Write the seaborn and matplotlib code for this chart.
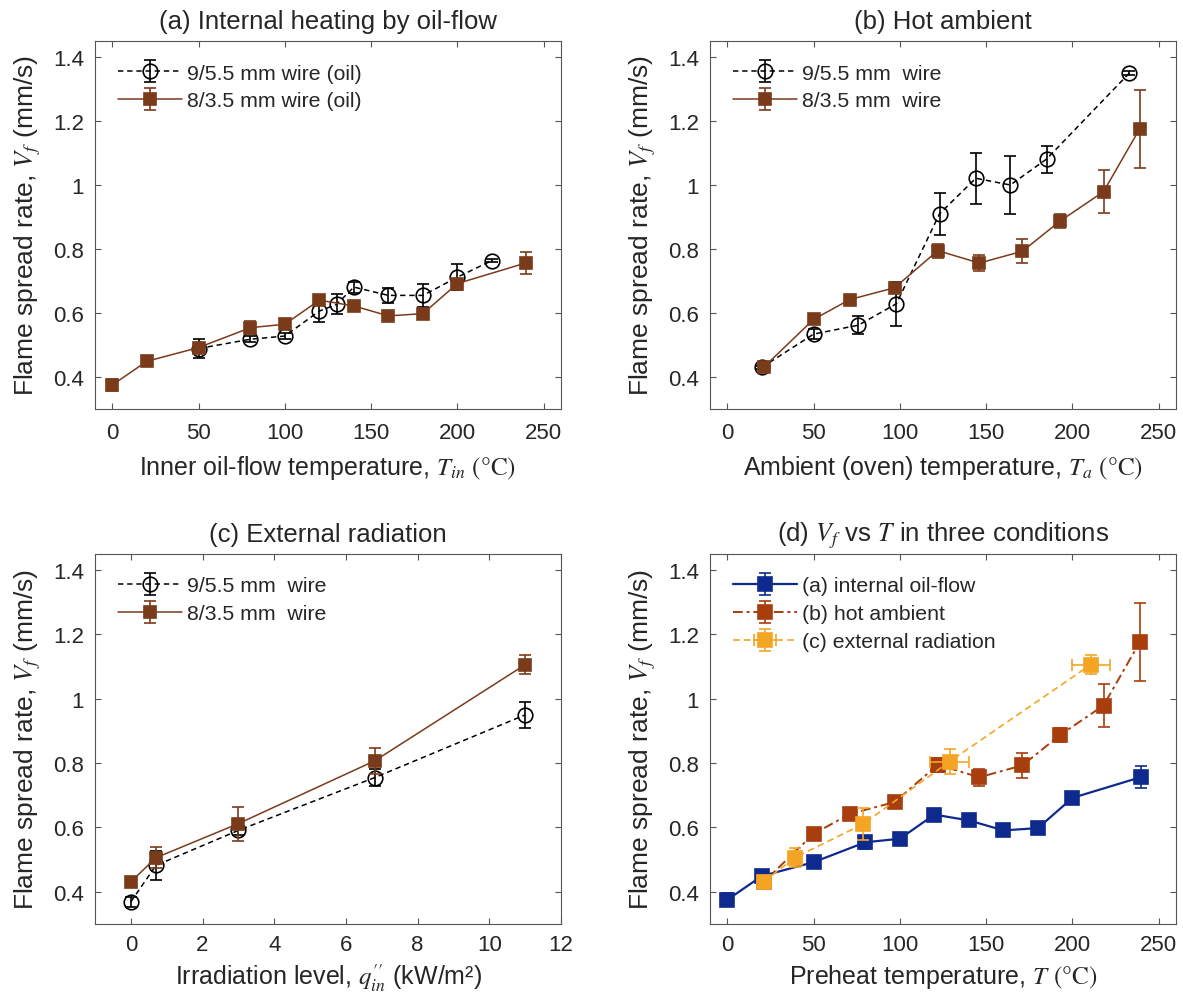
import numpy as np
import pandas as pd
import seaborn as sns
import matplotlib
matplotlib.use("Agg")
import matplotlib.pyplot as plt
from matplotlib.legend_handler import HandlerTuple

# ---------------- data ----------------
# (a) internal heating by oil flow
a_big_x = [50, 80, 100, 120, 130, 140, 160, 180, 200, 220]
a_big_y = [0.489, 0.518, 0.528, 0.606, 0.627, 0.681, 0.655, 0.655, 0.712, 0.764]
a_big_e = [0.029, 0.010, 0.010, 0.034, 0.031, 0.017, 0.023, 0.036, 0.040, 0.005]
a_sm_x = [0, 20, 50, 80, 100, 120, 140, 160, 180, 200, 240]
a_sm_y = [0.375, 0.449, 0.492, 0.554, 0.565, 0.640, 0.622, 0.591, 0.598, 0.692, 0.757]
a_sm_e = [0.020, 0.008, 0.010, 0.020, 0.010, 0.012, 0.010, 0.010, 0.010, 0.012, 0.034]

# (b) hot ambient
b_big_x = [20, 50, 76, 98, 123, 144, 164, 185, 233]
b_big_y = [0.430, 0.534, 0.562, 0.629, 0.910, 1.021, 1.000, 1.081, 1.350]
b_big_e = [0.005, 0.015, 0.028, 0.069, 0.065, 0.080, 0.092, 0.042, 0.005]
b_sm_x = [21, 50, 71, 97, 122, 146, 171, 193, 218, 239]
b_sm_y = [0.430, 0.580, 0.642, 0.679, 0.795, 0.756, 0.793, 0.888, 0.979, 1.176]
b_sm_e = [0.005, 0.010, 0.010, 0.012, 0.022, 0.026, 0.038, 0.022, 0.067, 0.122]

# (c) external radiation
c_big_x = [0, 0.7, 3.0, 6.8, 11.0]
c_big_y = [0.369, 0.482, 0.591, 0.755, 0.950]
c_big_e = [0.015, 0.044, 0.015, 0.027, 0.040]
c_sm_x = [0, 0.7, 3.0, 6.8, 11.0]
c_sm_y = [0.431, 0.506, 0.612, 0.807, 1.106]
c_sm_e = [0.008, 0.033, 0.053, 0.040, 0.030]

# (d) Vf vs preheat temperature T
d_c_x = [21, 39, 78.5, 128.8, 210.6]
d_c_y = [0.431, 0.506, 0.610, 0.805, 1.106]
d_c_ye = [0.008, 0.030, 0.050, 0.040, 0.030]
d_c_xe = [0, 0, 0, 11.5, 11.0]

yticks = [0.4, 0.6, 0.8, 1.0, 1.2, 1.4]
ytick_labels = ["0.4", "0.6", "0.8", "1", "1.2", "1.4"]
temp_ticks = [0, 50, 100, 150, 200, 250]
irr_ticks = [0, 2, 4, 6, 8, 10, 12]

titles = ["(a) Internal heating by oil-flow", "(b) Hot ambient",
          "(c) External radiation", r"(d) $V_f$ vs $T$ in three conditions"]
xlabels = [r"Inner oil-flow temperature, $T_{in}$ $(\degree\mathrm{C})$",
           r"Ambient (oven) temperature, $T_a$ $(\degree\mathrm{C})$",
           r"Irradiation level, $q_{in}^{\prime\prime}$ (kW/m²)",
           r"Preheat temperature, $T$ $(\degree\mathrm{C})$"]
ylabel = r"Flame spread rate, $V_f$ (mm/s)"
leg_a = ["9/5.5 mm wire (oil)", "8/3.5 mm wire (oil)"]
leg_bc = ["9/5.5 mm  wire", "8/3.5 mm  wire"]
leg_d = ["(a) internal oil-flow", "(b) hot ambient", "(c) external radiation"]

# ---------------- style ----------------
sns.set_theme(style="ticks")
plt.rcParams["font.family"] = ["Liberation Sans", "DejaVu Sans"]
plt.rcParams["mathtext.fontset"] = "stix"
plt.rcParams["axes.edgecolor"] = "#555555"
plt.rcParams["xtick.color"] = "#555555"
plt.rcParams["ytick.color"] = "#555555"
plt.rcParams["xtick.labelcolor"] = "#262626"
plt.rcParams["ytick.labelcolor"] = "#262626"

BROWN = "#7a3b1b"
BLUE = "#0e2a8e"
RUST = "#a83d0e"
ORANGE = "#f5a524"

TFS = 18.5
XLFS = 18
YLFS = 19
TKFS = 16
LGFS = 15.3

fig = plt.figure(figsize=(11.83, 10.04), dpi=100)
W, H = 1183, 1004


def mkax(l, r, t, b):
    return fig.add_axes([l / W, 1 - b / H, (r - l) / W, (b - t) / H])


axA = mkax(95, 561, 42, 410)
axB = mkax(710, 1176, 42, 410)
axC = mkax(95, 561, 555, 925)
axD = mkax(710, 1176, 555, 925)


def series(ax, x, y, e, color, ls, marker, ms, mfc, xe=None, lw=1.1):
    df = pd.DataFrame({"x": x, "y": y})
    sns.lineplot(data=df, x="x", y="y", ax=ax, color=color, linestyle=ls,
                 linewidth=lw, marker=marker, markersize=ms,
                 markerfacecolor=mfc, markeredgecolor=color,
                 markeredgewidth=1.2, legend=False, sort=False,
                 estimator=None)
    line = ax.lines[-1]
    if xe is not None:
        xe = [v if v > 0 else np.nan for v in xe]
    cont = ax.errorbar(x, y, yerr=e, xerr=xe, fmt="none", ecolor=color,
                       elinewidth=1.2, capsize=4.5, capthick=1.2)
    return (cont, line)


def style(ax, title, xlabel, xlim, xticks, xpad, lpad):
    ax.set_xlim(*xlim)
    ax.set_ylim(0.3, 1.45)
    ax.set_xticks(xticks)
    ax.set_yticks(yticks)
    ax.set_yticklabels(ytick_labels)
    ax.tick_params(direction="in", top=True, right=True, length=4,
                   width=0.8, labelsize=TKFS)
    ax.tick_params(axis="x", pad=xpad)
    ax.tick_params(axis="y", pad=8)
    ax.set_title(title, fontsize=TFS, pad=9.5)
    ax.set_xlabel(xlabel, fontsize=XLFS, labelpad=lpad)
    ax.set_ylabel(ylabel, fontsize=YLFS, labelpad=7)
    for s in ax.spines.values():
        s.set_linewidth(0.8)


def leg(ax, handles, labels):
    bb = ax.get_position()
    dx = 14.5 / (bb.width * W)
    dy = 14.0 / (bb.height * H)
    ax.legend(handles, labels, loc="upper left", frameon=False,
              bbox_to_anchor=(dx, 1 - dy), borderaxespad=0.0,
              fontsize=LGFS, handlelength=3.0, handletextpad=0.25,
              labelspacing=0.42, borderpad=0.4,
              handler_map={tuple: HandlerTuple(ndivide=1)})


# (a)
h1 = series(axA, a_big_x, a_big_y, a_big_e, "black", (0, (3.5, 2.5)), "o", 10.5, "none")
h2 = series(axA, a_sm_x, a_sm_y, a_sm_e, BROWN, "-", "s", 8, BROWN)
style(axA, titles[0], xlabels[0], (-10, 260), temp_ticks, 9.5, 7)
leg(axA, [h1, h2], leg_a)

# (b)
h1 = series(axB, b_big_x, b_big_y, b_big_e, "black", (0, (3.5, 2.5)), "o", 10.5, "none")
h2 = series(axB, b_sm_x, b_sm_y, b_sm_e, BROWN, "-", "s", 8, BROWN)
style(axB, titles[1], xlabels[1], (-10, 260), temp_ticks, 9.5, 7)
leg(axB, [h1, h2], leg_bc)

# (c)
h1 = series(axC, c_big_x, c_big_y, c_big_e, "black", (0, (3.5, 2.5)), "o", 10.5, "none")
h2 = series(axC, c_sm_x, c_sm_y, c_sm_e, BROWN, "-", "s", 8, BROWN)
style(axC, titles[2], xlabels[2], (-1, 12), irr_ticks, 7, 5)
leg(axC, [h1, h2], leg_bc)

# (d)
h1 = series(axD, a_sm_x, a_sm_y, a_sm_e, BLUE, "-", "s", 9.5, BLUE, lw=1.6)
h2 = series(axD, b_sm_x, b_sm_y, b_sm_e, RUST, (0, (5, 2, 1.5, 2)), "s", 9.5, RUST, lw=1.4)
h3 = series(axD, d_c_x, d_c_y, d_c_ye, ORANGE, (0, (4, 2.5)), "s", 9.5, ORANGE, xe=d_c_xe, lw=1.2)
style(axD, titles[3], xlabels[3], (-10, 260), temp_ticks, 7, 5)
leg(axD, [h1, h2, h3], leg_d)

fig.savefig("out.png", dpi=100)
